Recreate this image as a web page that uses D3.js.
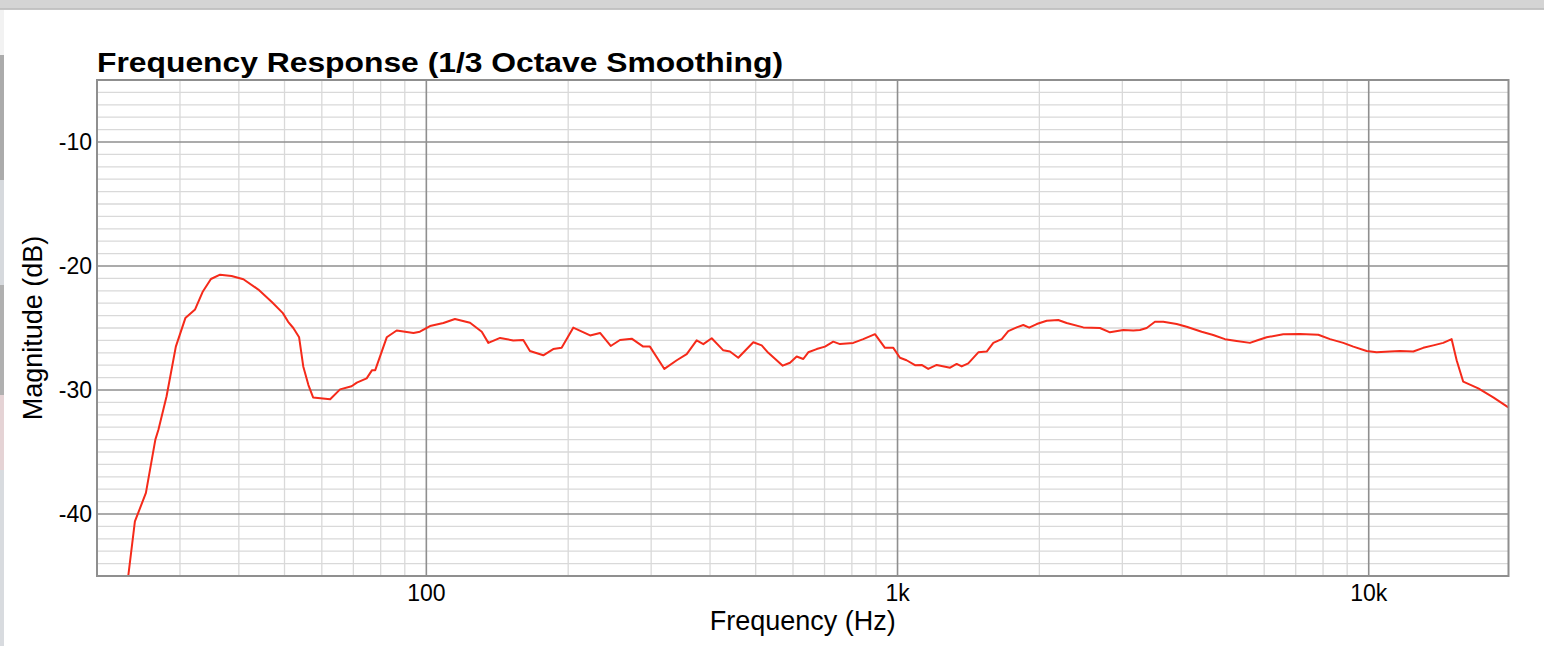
<!DOCTYPE html>
<html>
<head>
<meta charset="utf-8">
<script src="https://cdn.jsdelivr.net/npm/d3@7"></script>
<style>
  body { margin: 0; background: #fff; overflow: hidden; }
  svg { display: block; font-family: "Liberation Sans", Arial, sans-serif; }
</style>
</head>
<body>
<svg id="chart"></svg>
<script>
// frequency response (Hz, dB)
const freqHz = [23.3, 24.07, 25.4, 26.6, 27.0, 28.1, 29.4, 30.8, 32.3, 33.5, 34.9, 36.5, 38.6, 40.9,
  44.0, 47.0, 49.6, 50.9, 52.2, 53.7, 54.8, 56.2, 57.5, 62.5, 65.6, 69.4, 71.2, 74.7, 76.7, 77.9,
  82.4, 86.5, 93.9, 96.9, 101.8, 108.7, 115.0, 123.8, 131.1, 135.4, 143.4, 152.9, 160.6, 165.9,
  177.1, 185.9, 193.7, 205.0, 222.6, 233.7, 246.2, 257.6, 272.8, 288.6, 298.2, 320, 340, 356.9,
  374.7, 387.1, 403.3, 426.8, 440.9, 459.2, 494.2, 514.9, 531.8, 570.6, 591.3, 610.9, 630.9, 646.5,
  673.6, 701.5, 730.5, 754.8, 805.4, 845.8, 895.6, 940.4, 979.5, 1012, 1045, 1089, 1125, 1162,
  1211, 1293, 1335, 1368, 1413, 1484, 1546, 1597, 1664, 1718, 1790, 1849, 1903, 1974, 2073, 2193,
  2285, 2479, 2689, 2824, 3014, 3165, 3270, 3379, 3518, 3664, 3912, 4107, 4420, 4677, 4952, 5243,
  5597, 5830, 6074, 6586, 7146, 7817, 8277, 8831, 9276, 9900, 10394, 11093, 11647, 12435, 13055,
  13710, 14391, 14997, 15368, 15871, 17083, 18380, 19783];
const magDb = [-45.0, -40.6, -38.3, -34.0, -33.2, -30.5, -26.5, -24.2, -23.5, -22.1, -21.05, -20.7, -20.8, -21.07,
  -21.9, -22.9, -23.8, -24.5, -25.0, -25.75, -28.1, -29.6, -30.6, -30.75, -29.95, -29.7, -29.4, -29.06, -28.4, -28.4,
  -25.75, -25.2, -25.4, -25.3, -24.84, -24.6, -24.27, -24.57, -25.3, -26.2, -25.8, -26.0, -25.97, -26.85,
  -27.2, -26.7, -26.6, -24.97, -25.6, -25.4, -26.45, -25.97, -25.86, -26.5, -26.5, -28.3, -27.6, -27.1,
  -26.0, -26.3, -25.83, -26.8, -26.9, -27.4, -26.15, -26.4, -27.0, -28.04, -27.8, -27.3, -27.5, -26.96,
  -26.7, -26.5, -26.1, -26.3, -26.2, -25.9, -25.5, -26.6, -26.6, -27.4, -27.6, -28.0, -27.98, -28.3,
  -27.98, -28.2, -27.9, -28.1, -27.85, -26.96, -26.9, -26.2, -25.9, -25.25, -24.95, -24.76, -24.97, -24.68, -24.41, -24.35,
  -24.6, -24.95, -25.0, -25.35, -25.16, -25.2, -25.16, -25.0, -24.5, -24.5, -24.68, -24.9, -25.3, -25.56, -25.9, -26.05,
  -26.2, -25.97, -25.75, -25.5, -25.48, -25.54, -25.9, -26.2, -26.5, -26.85, -26.96, -26.9, -26.85, -26.9, -26.6,
  -26.4, -26.2, -25.9, -27.6, -29.33, -29.87, -30.6, -31.4];

const majorFreqs = [100, 1000, 10000];
const freqTickLabels = ["100", "1k", "10k"];
const minorFreqs = [30, 40, 50, 60, 70, 80, 90, 200, 300, 400, 500, 600, 700, 800, 900,
  2000, 3000, 4000, 5000, 6000, 7000, 8000, 9000];
const majorDb = [-10, -20, -30, -40];
const minorDb = d3.range(-44, -5).filter(v => v % 10 !== 0);

const W = 1544, H = 646;
const plot = { left: 97, right: 1508.5, top: 80, bottom: 576 };

const x = d3.scaleLog().domain([20, 19800]).range([plot.left, plot.right]);
const y = d3.scaleLinear().domain([-45, -5]).range([plot.bottom, plot.top]);

const svg = d3.select("#chart").attr("width", W).attr("height", H);

// window chrome from the screenshot
svg.append("rect").attr("x", 0).attr("y", 0).attr("width", W).attr("height", 9).attr("fill", "#d4d4d4");
svg.append("rect").attr("x", 0).attr("y", 8.5).attr("width", W).attr("height", 1.2).attr("fill", "#adadad");
const strip = [[10, 55, "#f2f2f2"], [55, 180, "#ababab"], [180, 285, "#d6d9dd"], [285, 395, "#b0b0b0"],
  [395, 470, "#e5d3d5"], [470, 646, "#d8dbdf"]];
svg.append("g").selectAll("rect").data(strip).join("rect")
  .attr("x", 0).attr("width", 4).attr("y", d => d[0]).attr("height", d => d[1] - d[0]).attr("fill", d => d[2]);

// grid
const grid = svg.append("g");
grid.selectAll(".minx").data(minorFreqs).join("line")
  .attr("x1", d => x(d)).attr("x2", d => x(d)).attr("y1", plot.top).attr("y2", plot.bottom)
  .attr("stroke", "#d9d9d9").attr("stroke-width", 1.3);
grid.selectAll(".miny").data(minorDb).join("line")
  .attr("x1", plot.left).attr("x2", plot.right).attr("y1", d => y(d)).attr("y2", d => y(d))
  .attr("stroke", "#d9d9d9").attr("stroke-width", 1.3);
grid.selectAll(".majx").data(majorFreqs).join("line")
  .attr("x1", d => x(d)).attr("x2", d => x(d)).attr("y1", plot.top).attr("y2", plot.bottom)
  .attr("stroke", "#8f8f8f").attr("stroke-width", 1.6);
grid.selectAll(".majy").data(majorDb).join("line")
  .attr("x1", plot.left).attr("x2", plot.right).attr("y1", d => y(d)).attr("y2", d => y(d))
  .attr("stroke", "#8f8f8f").attr("stroke-width", 1.6);

// curve
svg.append("clipPath").attr("id", "clip").append("rect")
  .attr("x", plot.left).attr("y", plot.top).attr("width", plot.right - plot.left).attr("height", plot.bottom - plot.top);
const points = freqHz.map((f, i) => [f, magDb[i]]);
svg.append("path")
  .attr("clip-path", "url(#clip)")
  .attr("d", d3.line().x(d => x(d[0])).y(d => y(d[1]))(points))
  .attr("fill", "none").attr("stroke", "#f52a1a").attr("stroke-width", 2).attr("stroke-linejoin", "round");

// frame
svg.append("rect").attr("x", plot.left).attr("y", plot.top)
  .attr("width", plot.right - plot.left).attr("height", plot.bottom - plot.top)
  .attr("fill", "none").attr("stroke", "#8f8f8f").attr("stroke-width", 2);

// tick labels
svg.append("g").selectAll("text").data(majorDb).join("text")
  .attr("x", 92).attr("y", d => y(d) + 8).attr("text-anchor", "end")
  .attr("font-size", 23).attr("fill", "#000").text(d => d);
svg.append("g").selectAll("text").data(majorFreqs).join("text")
  .attr("x", d => x(d)).attr("y", 601).attr("text-anchor", "middle")
  .attr("font-size", 23).attr("fill", "#000").text((d, i) => freqTickLabels[i]);

// titles
svg.append("text").attr("x", 97).attr("y", 72).attr("font-size", 28).attr("font-weight", "bold")
  .attr("textLength", 686).attr("lengthAdjust", "spacingAndGlyphs")
  .text("Frequency Response (1/3 Octave Smoothing)");
svg.append("text").attr("x", (plot.left + plot.right) / 2).attr("y", 630).attr("text-anchor", "middle")
  .attr("font-size", 27).text("Frequency (Hz)");
svg.append("text").attr("transform", `translate(42,${(plot.top + plot.bottom) / 2}) rotate(-90)`)
  .attr("text-anchor", "middle").attr("font-size", 27).text("Magnitude (dB)");
</script>
</body>
</html>
